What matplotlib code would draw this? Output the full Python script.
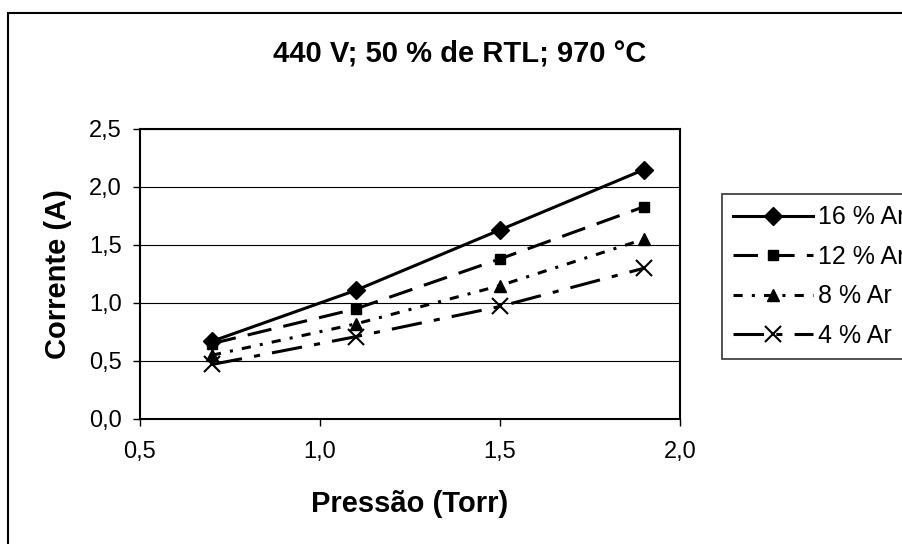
import matplotlib
matplotlib.use("Agg")
import matplotlib.pyplot as plt
from matplotlib.patches import Rectangle
from matplotlib.ticker import FuncFormatter

plt.rcParams['font.family'] = ['Liberation Sans', 'DejaVu Sans']

pressao = [0.7, 1.1, 1.5, 1.9]
ar16 = [0.67, 1.11, 1.63, 2.15]
ar12 = [0.65, 0.95, 1.38, 1.83]
ar8 = [0.55, 0.82, 1.15, 1.55]
ar4 = [0.47, 0.71, 0.97, 1.30]
labels = ['16 % Ar', '12 % Ar', '8 % Ar', '4 % Ar']

W, H = 902, 544
fig = plt.figure(figsize=(W / 100, H / 100), dpi=100)

# outer chart frame (right and bottom run off the picture)
fig.patches.append(Rectangle((8 / W, -0.05), 1.0, 1 - 13 / H + 0.05,
                             transform=fig.transFigure, fill=False,
                             edgecolor='black', linewidth=1.5))

ax = fig.add_axes([140 / W, 1 - 419 / H, 540 / W, 290 / H])

series = [ar16, ar12, ar8, ar4]
markers = ['D', 's', '^', 'x']
msizes = [9, 7, 9, 11]
styles = ['-', (0, (8, 4)), (0, (3, 3, 1, 3)), (0, (10, 4, 2, 4))]
for ys, m, ms, ls, lab in zip(series, markers, msizes, styles, labels):
    ax.plot(pressao, ys, color='black', linestyle=ls, linewidth=2.2,
            marker=m, markersize=ms, markeredgewidth=1.5 if m == 'x' else 1,
            label=lab)

ax.set_xlim(0.5, 2.0)
ax.set_ylim(0, 2.5)
ax.set_xticks([0.5, 1.0, 1.5, 2.0])
ax.set_yticks([0, 0.5, 1.0, 1.5, 2.0, 2.5])
fmt = FuncFormatter(lambda v, p: f"{v:.1f}".replace('.', ','))
ax.xaxis.set_major_formatter(fmt)
ax.yaxis.set_major_formatter(fmt)
ax.tick_params(direction='out', length=5, labelsize=17, width=1, pad=8)
ax.tick_params(axis='x', pad=11)
ax.grid(axis='y', color='black', linewidth=0.8)
ax.set_axisbelow(True)
for s in ax.spines.values():
    s.set_linewidth(1.5)

ax.set_xlabel('Pressão (Torr)', fontsize=21, fontweight='bold')
ax.xaxis.set_label_coords(0.5, -(504 - 419) / 290)
ax.xaxis.label.set_va('center')
ax.set_ylabel('Corrente (A)', fontsize=21, fontweight='bold')
ax.yaxis.set_label_coords(-(140 - 58) / 540, 0.5)
ax.yaxis.label.set_va('center')
fig.text(460 / W, 1 - 53 / H, '440 V; 50 % de RTL; 970 °C', fontsize=21,
         fontweight='bold', ha='center', va='center')

# legend runs off the right edge, as in the reference
leg = fig.legend(loc='upper left', bbox_to_anchor=(722 / W, 1 - 194 / H),
                 fontsize=18, frameon=True, fancybox=False, edgecolor='black',
                 handlelength=3.2, handletextpad=0.2, labelspacing=0.62,
                 borderpad=0.45, borderaxespad=0)
leg.get_frame().set_linewidth(1.2)

fig.savefig('out.png', dpi=100)
